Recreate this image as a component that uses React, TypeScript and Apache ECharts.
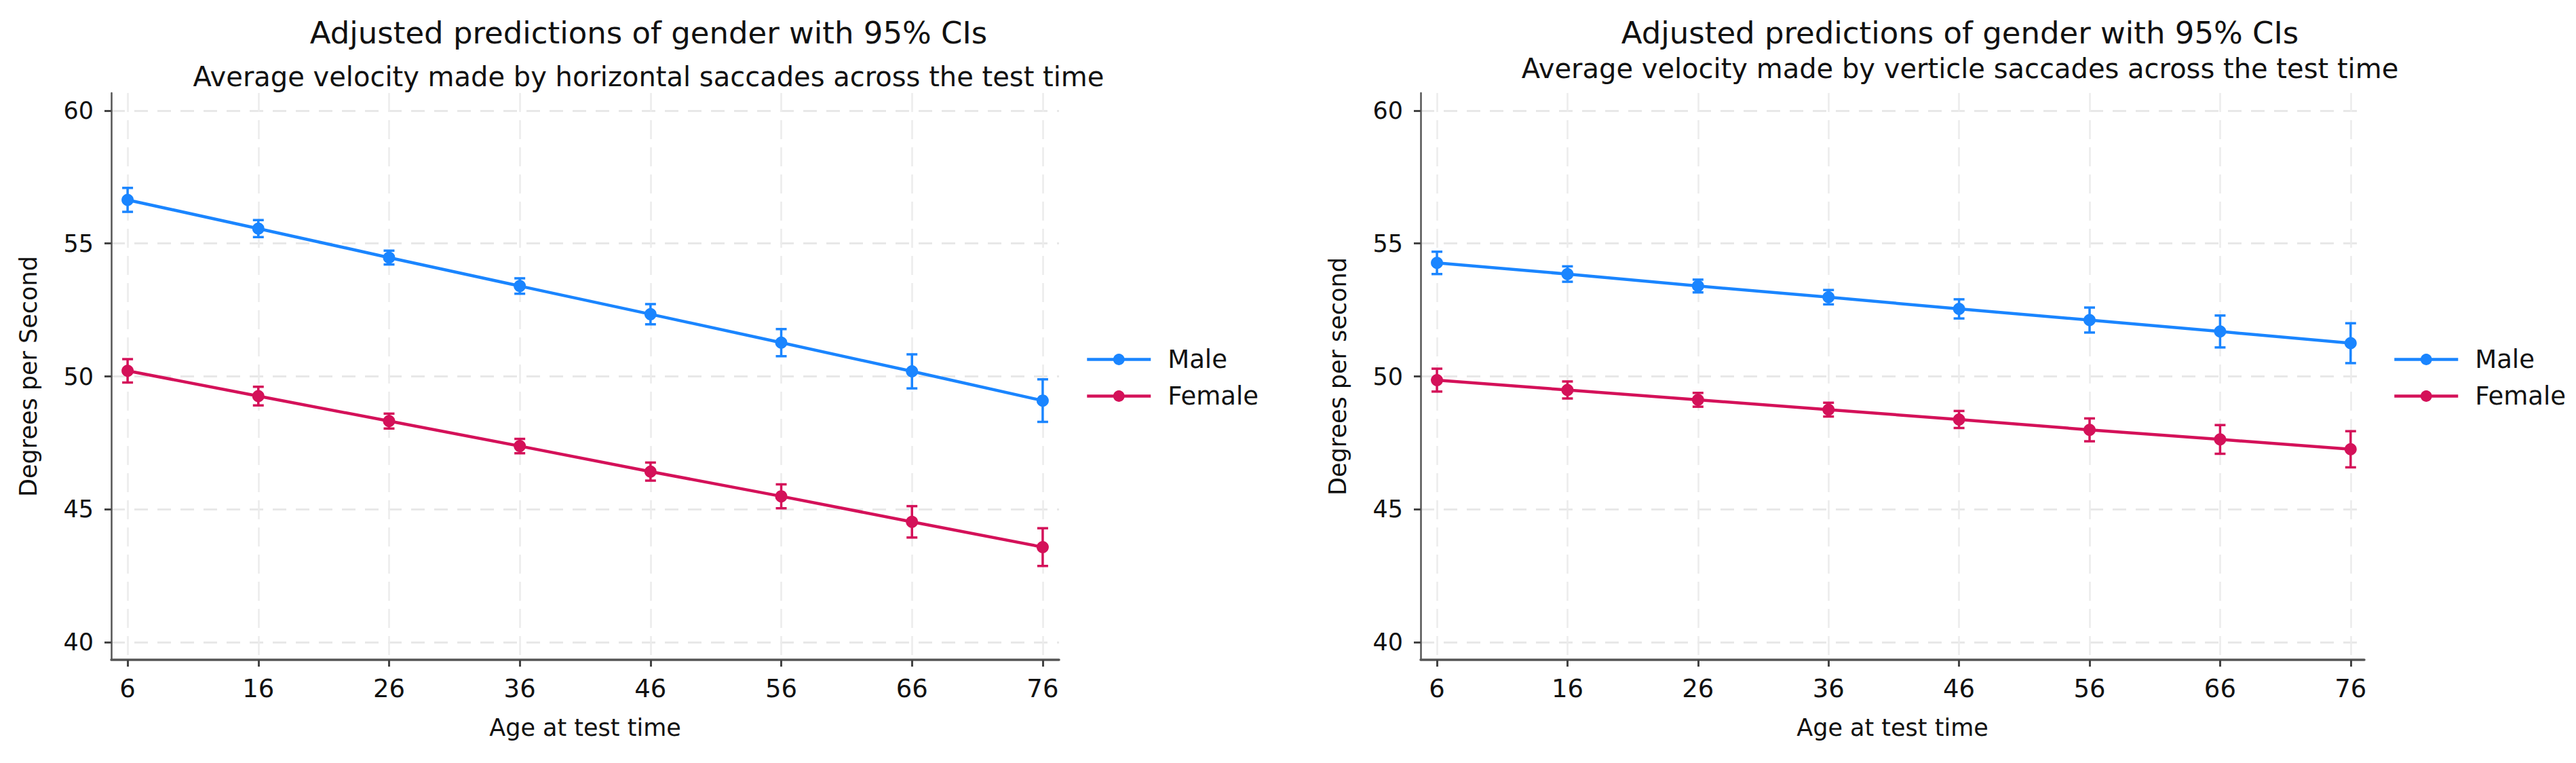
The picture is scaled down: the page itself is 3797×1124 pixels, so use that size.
import React, { useEffect, useRef } from 'react';
import * as echarts from 'echarts';

// ---- data ----
const ages = [6, 16, 26, 36, 46, 56, 66, 76];
const yTicks = [40, 45, 50, 55, 60];

// Horizontal saccades (left panel)
const maleH = [56.64, 55.56, 54.47, 53.4, 52.34, 51.27, 50.19, 49.09];
const maleHci = [0.45, 0.32, 0.26, 0.29, 0.38, 0.51, 0.64, 0.8];
const femaleH = [50.21, 49.26, 48.32, 47.38, 46.42, 45.49, 44.53, 43.58];
const femaleHci = [0.44, 0.35, 0.28, 0.27, 0.34, 0.45, 0.59, 0.71];

// Verticle saccades (right panel)
const maleV = [54.27, 53.85, 53.4, 52.98, 52.54, 52.12, 51.69, 51.25];
const maleVci = [0.42, 0.29, 0.24, 0.27, 0.36, 0.47, 0.6, 0.75];
const femaleV = [49.86, 49.49, 49.12, 48.75, 48.38, 47.99, 47.63, 47.26];
const femaleVci = [0.43, 0.32, 0.26, 0.26, 0.32, 0.43, 0.54, 0.68];

const titleText = 'Adjusted predictions of gender with 95% CIs';
const subLeft = 'Average velocity made by horizontal saccades across the test time';
const subRight = 'Average velocity made by verticle saccades across the test time';
const xName = 'Age at test time';
const yNameLeft = 'Degrees per Second';
const yNameRight = 'Degrees per second';
const legendNames = ['Male', 'Female'];

const BLUE = '#1a85ff';
const RED = '#d41159';
const FONT = 'DejaVu Sans';
const TXT = '#111111';

const lineData = (v: number[]) => ages.map((a, i) => [a, v[i]]);
const ciData = (v: number[], ci: number[]) => ages.map((a, i) => [a, v[i] - ci[i], v[i] + ci[i]]);

function errorBars(name: string, data: number[][], color: string, idx: number) {
  return {
    type: 'custom',
    name,
    xAxisIndex: idx,
    yAxisIndex: idx,
    z: 2,
    encode: { x: 0, y: [1, 2] },
    data,
    renderItem: (params: any, api: any) => {
      const x = api.value(0);
      const lo = api.value(1);
      const hi = api.value(2);
      const p1 = api.coord([x, hi]);
      const p2 = api.coord([x, lo]);
      const w = 8;
      const st = { stroke: color, lineWidth: 3.5 };
      return {
        type: 'group',
        children: [
          { type: 'line', shape: { x1: p1[0], y1: p1[1], x2: p2[0], y2: p2[1] }, style: st },
          { type: 'line', shape: { x1: p1[0] - w, y1: p1[1], x2: p1[0] + w, y2: p1[1] }, style: st },
          { type: 'line', shape: { x1: p2[0] - w, y1: p2[1], x2: p2[0] + w, y2: p2[1] }, style: st },
        ],
      };
    },
  };
}

function lineSeries(name: string, v: number[], color: string, idx: number) {
  return {
    type: 'line',
    name,
    xAxisIndex: idx,
    yAxisIndex: idx,
    z: 3,
    data: lineData(v),
    symbol: 'circle',
    symbolSize: 18,
    itemStyle: { color },
    lineStyle: { color, width: 4.5 },
    emphasis: { disabled: true },
  };
}

function xAxis(idx: number, max: number) {
  return {
    type: 'value',
    gridIndex: idx,
    min: 4.75,
    max,
    axisLine: { show: true, onZero: false, lineStyle: { color: '#555', width: 3.5 } },
    axisTick: { show: true, customValues: ages, length: 10, lineStyle: { color: '#444', width: 3 } },
    axisLabel: { customValues: ages, fontFamily: FONT, fontSize: 37, color: TXT, margin: 24 },
    splitLine: { show: true, lineStyle: { color: '#ececec', width: 2.5, type: [28, 12] } },
    name: xName,
    nameLocation: 'middle',
    nameGap: 82,
    nameTextStyle: { fontFamily: FONT, fontSize: 35, color: TXT },
  };
}

function yAxis(idx: number, name: string) {
  return {
    type: 'value',
    gridIndex: idx,
    min: 39.34,
    max: 60.66,
    axisLine: { show: true, lineStyle: { color: '#555', width: 2.5 } },
    axisTick: { show: true, customValues: yTicks, length: 10, lineStyle: { color: '#444', width: 3 } },
    axisLabel: { customValues: yTicks, fontFamily: FONT, fontSize: 35, color: TXT, margin: 26 },
    splitLine: { show: true, lineStyle: { color: '#e8e8e8', width: 3, type: [20, 14] } },
    name,
    nameLocation: 'middle',
    nameGap: 105,
    nameTextStyle: { fontFamily: FONT, fontSize: 35, color: TXT },
  };
}

function legend(left: number) {
  return {
    orient: 'vertical',
    left,
    top: 506,
    data: legendNames,
    itemWidth: 94,
    itemHeight: 21,
    itemGap: 17,
    selectedMode: false,
    lineStyle: { width: 4.5 },
    textStyle: { fontFamily: FONT, fontSize: 37, color: TXT, padding: [0, 0, 0, 20] },
  };
}

export default function App() {
  const ref = useRef<HTMLDivElement>(null);
  useEffect(() => {
    if (!ref.current) return;
    const chart = echarts.init(ref.current, null, { renderer: 'svg' });
    chart.setOption({
      animation: false,
      backgroundColor: '#ffffff',
      title: [
        {
          text: titleText,
          subtext: subLeft,
          left: 951,
          top: 21,
          textAlign: 'center',
          itemGap: 22,
          textStyle: { fontFamily: FONT, fontSize: 45, fontWeight: 'normal', color: TXT },
          subtextStyle: { fontFamily: FONT, fontSize: 40, color: TXT },
        },
        {
          text: titleText,
          subtext: subRight,
          left: 2884,
          top: 21,
          textAlign: 'center',
          itemGap: 10,
          textStyle: { fontFamily: FONT, fontSize: 45, fontWeight: 'normal', color: TXT },
          subtextStyle: { fontFamily: FONT, fontSize: 40, color: TXT },
        },
      ],
      legend: [legend(1595), legend(3522)],
      grid: [
        { left: 164, top: 137, width: 1397, height: 835 },
        { left: 2094, top: 137, width: 1391, height: 835 },
      ],
      xAxis: [xAxis(0, 77.25), xAxis(1, 77.05)],
      yAxis: [yAxis(0, yNameLeft), yAxis(1, yNameRight)],
      series: [
        errorBars('Male CI H', ciData(maleH, maleHci), BLUE, 0),
        errorBars('Female CI H', ciData(femaleH, femaleHci), RED, 0),
        lineSeries('Male', maleH, BLUE, 0),
        lineSeries('Female', femaleH, RED, 0),
        errorBars('Male CI V', ciData(maleV, maleVci), BLUE, 1),
        errorBars('Female CI V', ciData(femaleV, femaleVci), RED, 1),
        lineSeries('Male', maleV, BLUE, 1),
        lineSeries('Female', femaleV, RED, 1),
      ],
    });
    return () => chart.dispose();
  }, []);
  return (
    <div
      ref={ref}
      style={{ position: 'absolute', left: 0, top: 0, width: 3797, height: 1124, background: '#fff' }}
    />
  );
}
